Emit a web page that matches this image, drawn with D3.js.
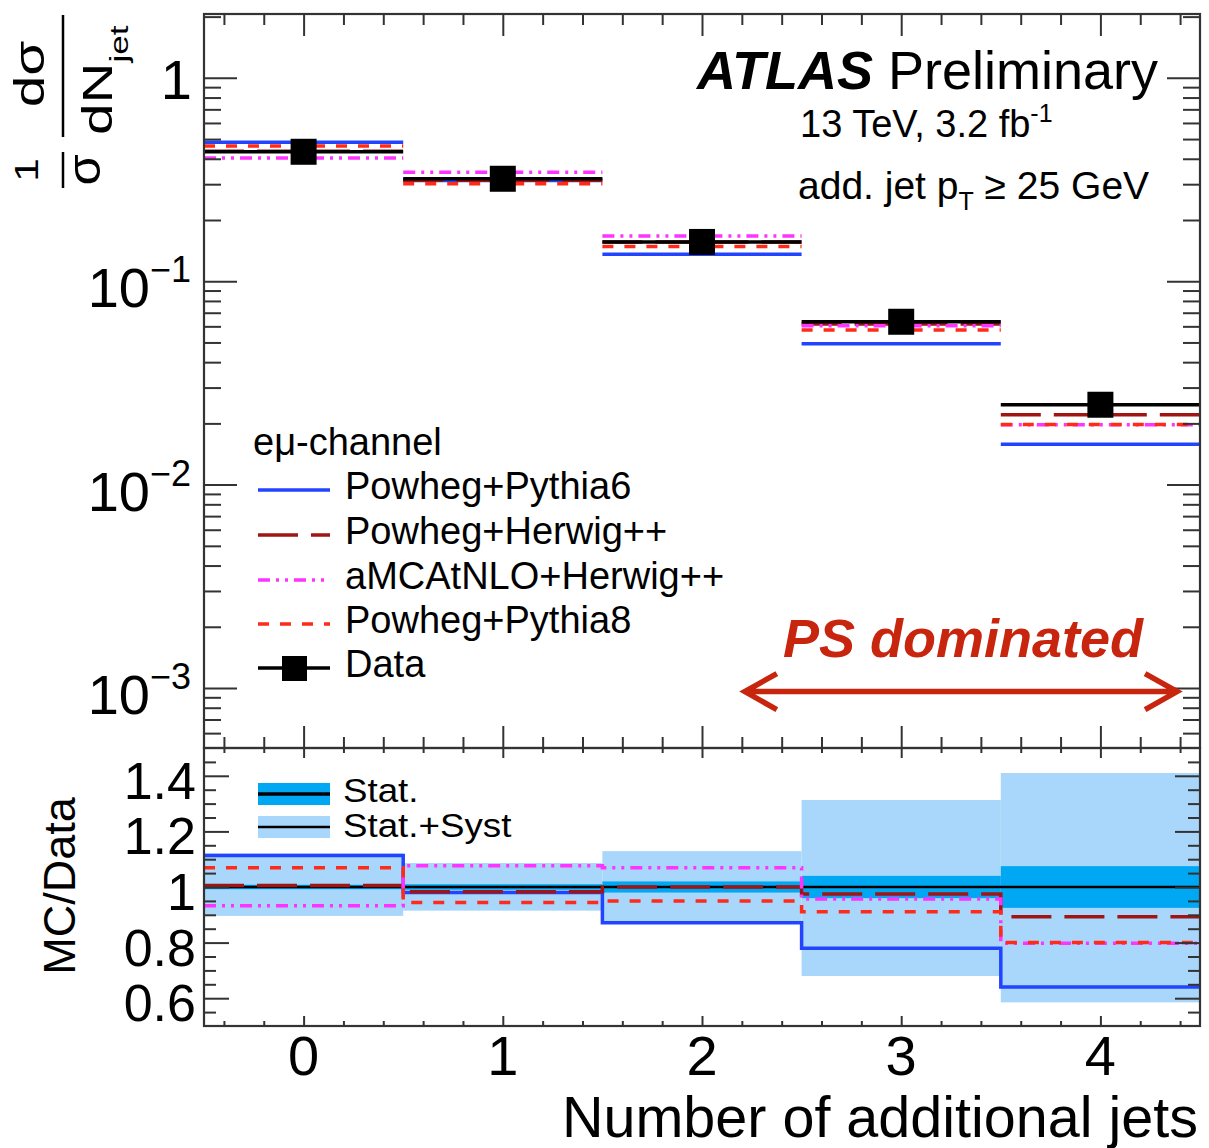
<!DOCTYPE html>
<html><head><meta charset="utf-8">
<script src="https://cdn.jsdelivr.net/npm/d3@7"></script>
<style>
body{margin:0;background:#fff}
svg{display:block}
text{font-family:"Liberation Sans", Arial, Helvetica, sans-serif;fill:#000}
</style>
</head><body>
<svg id="c" width="1209" height="1148"></svg>
<script>
// ---------------- data ----------------
const categories = [0, 1, 2, 3, 4];
const xTickLabels = ["0", "1", "2", "3", "4"];
const dataValues = [0.433, 0.319, 0.156, 0.0632, 0.0247];
const ratioPowhegPythia6 = [1.113, 0.980, 0.871, 0.780, 0.640];
const ratioPowhegHerwig  = [1.005, 0.983, 1.000, 0.975, 0.893];
const ratioAmcHerwig     = [0.933, 1.076, 1.069, 0.957, 0.798];
const ratioPowhegPythia8 = [1.069, 0.944, 0.950, 0.911, 0.800];
const statErr  = [0.008, 0.010, 0.020, 0.040, 0.075];
const systUp   = [1.121, 1.086, 1.129, 1.313, 1.410];
const systDown = [0.896, 0.915, 0.877, 0.680, 0.585];
const mainYTicks = [1, 0.1, 0.01, 0.001];
const mainYTickExp = ["0", "−1", "−2", "−3"];
const ratioYTicks = [0.6, 0.8, 1.0, 1.2, 1.4];
const ratioYTickLabels = ["0.6", "0.8", "1", "1.2", "1.4"];
const seriesNames = ["Powheg+Pythia6", "Powheg+Herwig++", "aMCAtNLO+Herwig++", "Powheg+Pythia8"];
const seriesRatios = [ratioPowhegPythia6, ratioPowhegHerwig, ratioAmcHerwig, ratioPowhegPythia8];
const dataName = "Data";
const bandNames = ["Stat.", "Stat.+Syst"];

// ---------------- styles ----------------
const seriesStyle = [
  {color: "#2244ff", dash: null},
  {color: "#a01414", dash: "40,13"},
  {color: "#ff33ff", dash: "12,6,3,6,3,6"},
  {color: "#ff2a1a", dash: "11,11"}
];
const statColor = "#00a8f4", systColor = "#a9d6fb";
const L = 204, R = 1200, T = 14, M = 748, B = 1026;

const svg = d3.select("#c");
const x = d3.scaleLinear().domain([-0.5, 4.5]).range([L, R]);
const y = d3.scaleLog().domain([5.07e-4, 2.06]).range([M, T]);
const yr = d3.scaleLinear().domain([0.5, 1.5]).range([B, M]);

// ---------------- ratio bands ----------------
const gr = svg.append("g");
gr.selectAll("rect.syst").data(categories).join("rect")
  .attr("x", d => x(d - 0.5)).attr("width", d => x(d + 0.5) - x(d - 0.5))
  .attr("y", (d, i) => yr(systUp[i])).attr("height", (d, i) => yr(systDown[i]) - yr(systUp[i]))
  .attr("fill", systColor);
gr.selectAll("rect.stat").data(categories).join("rect")
  .attr("x", d => x(d - 0.5)).attr("width", d => x(d + 0.5) - x(d - 0.5))
  .attr("y", (d, i) => yr(1 + statErr[i])).attr("height", (d, i) => yr(1 - statErr[i]) - yr(1 + statErr[i]))
  .attr("fill", statColor);
gr.append("line").attr("x1", x(-0.5)).attr("x2", x(4.5)).attr("y1", yr(1)).attr("y2", yr(1))
  .attr("stroke", "#000").attr("stroke-width", 2.5);

const stepLine = d3.line().x(d => x(d[0])).y(d => yr(d[1]));
[0, 1, 2, 3].forEach(s => {
  const pts = categories.flatMap((c, i) => [[c - 0.5, seriesRatios[s][i]], [c + 0.5, seriesRatios[s][i]]]);
  gr.append("path").attr("d", stepLine(pts)).attr("fill", "none")
    .attr("stroke", seriesStyle[s].color).attr("stroke-width", 3.5)
    .attr("stroke-dasharray", seriesStyle[s].dash);
});

// ---------------- main panel ----------------
const gm = svg.append("g");
[0, 1, 2, 3].forEach(s => {
  gm.selectAll(null).data(categories).join("line")
    .attr("x1", d => x(d - 0.5)).attr("x2", d => x(d + 0.5))
    .attr("y1", (d, i) => y(dataValues[i] * seriesRatios[s][i]))
    .attr("y2", (d, i) => y(dataValues[i] * seriesRatios[s][i]))
    .attr("stroke", seriesStyle[s].color).attr("stroke-width", 3.5)
    .attr("stroke-dasharray", seriesStyle[s].dash);
});
gm.selectAll(null).data(categories).join("line")
  .attr("x1", d => x(d - 0.5)).attr("x2", d => x(d + 0.5))
  .attr("y1", (d, i) => y(dataValues[i])).attr("y2", (d, i) => y(dataValues[i]))
  .attr("stroke", "#000").attr("stroke-width", 3.5);
const ms = 26;
gm.selectAll(null).data(categories).join("rect")
  .attr("x", d => x(d) - ms / 2).attr("y", (d, i) => y(dataValues[i]) - ms / 2)
  .attr("width", ms).attr("height", ms).attr("fill", "#000");

// ---------------- frames & ticks ----------------
const axColor = "#333";
function styleAxis(g) {
  g.select(".domain").remove();
  g.selectAll(".tick line").attr("stroke", axColor).attr("stroke-width", 2);
  g.selectAll(".tick text").remove();
}
const intTicks = categories;
const minorX = d3.range(-0.4, 4.45, 0.2).filter(v => Math.abs(v - Math.round(v)) > 0.05);
const minorLog = [];
for (let e = -4; e <= 0; e++) for (let k = 2; k <= 9; k++) {
  const v = k * Math.pow(10, e);
  if (v >= 5.07e-4 && v <= 2.06) minorLog.push(v);
}
const minorR = d3.range(0.55, 1.5, 0.05).filter(v => Math.abs(v * 5 - Math.round(v * 5)) > 0.01);

svg.append("g").attr("transform", `translate(${L},0)`).call(d3.axisLeft(y).tickValues(mainYTicks).tickSize(-33)).call(styleAxis);
svg.append("g").attr("transform", `translate(${L},0)`).call(d3.axisLeft(y).tickValues(minorLog).tickSize(-17)).call(styleAxis);
svg.append("g").attr("transform", `translate(${R},0)`).call(d3.axisRight(y).tickValues(mainYTicks).tickSize(-33)).call(styleAxis);
svg.append("g").attr("transform", `translate(${R},0)`).call(d3.axisRight(y).tickValues(minorLog).tickSize(-17)).call(styleAxis);
svg.append("g").attr("transform", `translate(0,${T})`).call(d3.axisTop(x).tickValues(intTicks).tickSize(-22)).call(styleAxis);
svg.append("g").attr("transform", `translate(0,${T})`).call(d3.axisTop(x).tickValues(minorX).tickSize(-11)).call(styleAxis);
svg.append("g").attr("transform", `translate(0,${M})`).call(d3.axisBottom(x).tickValues(intTicks).tickSize(-22)).call(styleAxis);
svg.append("g").attr("transform", `translate(0,${M})`).call(d3.axisBottom(x).tickValues(minorX).tickSize(-11)).call(styleAxis);
svg.append("g").attr("transform", `translate(0,${M})`).call(d3.axisTop(x).tickValues(intTicks).tickSize(-10)).call(styleAxis);
svg.append("g").attr("transform", `translate(0,${M})`).call(d3.axisTop(x).tickValues(minorX).tickSize(-5)).call(styleAxis);
svg.append("g").attr("transform", `translate(0,${B})`).call(d3.axisBottom(x).tickValues(intTicks).tickSize(-10)).call(styleAxis);
svg.append("g").attr("transform", `translate(0,${B})`).call(d3.axisBottom(x).tickValues(minorX).tickSize(-5)).call(styleAxis);
svg.append("g").attr("transform", `translate(${L},0)`).call(d3.axisLeft(yr).tickValues(ratioYTicks).tickSize(-25)).call(styleAxis);
svg.append("g").attr("transform", `translate(${L},0)`).call(d3.axisLeft(yr).tickValues(minorR).tickSize(-12)).call(styleAxis);
svg.append("g").attr("transform", `translate(${R},0)`).call(d3.axisRight(yr).tickValues(ratioYTicks).tickSize(-25)).call(styleAxis);
svg.append("g").attr("transform", `translate(${R},0)`).call(d3.axisRight(yr).tickValues(minorR).tickSize(-12)).call(styleAxis);

svg.append("rect").attr("x", L).attr("y", T).attr("width", R - L).attr("height", M - T)
  .attr("fill", "none").attr("stroke", axColor).attr("stroke-width", 2.2);
svg.append("rect").attr("x", L).attr("y", M).attr("width", R - L).attr("height", B - M)
  .attr("fill", "none").attr("stroke", axColor).attr("stroke-width", 2.2);

// ---------------- tick labels ----------------
svg.selectAll(null).data(categories).join("text")
  .attr("x", d => x(d)).attr("y", 1075).attr("text-anchor", "middle")
  .attr("font-size", 56).text((d, i) => xTickLabels[i]);

mainYTicks.forEach((v, i) => {
  if (mainYTickExp[i] === "0") {
    svg.append("text").attr("x", 192).attr("y", y(v) + 21).attr("text-anchor", "end")
      .attr("font-size", 56).text("1");
  } else {
    const t = svg.append("text").attr("x", 191).attr("y", y(v) + 26).attr("text-anchor", "end");
    t.append("tspan").attr("font-size", 56).text("10");
    t.append("tspan").attr("font-size", 36).attr("dy", -25).text(mainYTickExp[i]);
  }
});
svg.selectAll(null).data(ratioYTicks).join("text")
  .attr("x", 196).attr("y", d => yr(d) + 23).attr("text-anchor", "end")
  .attr("font-size", 52).text((d, i) => ratioYTickLabels[i]);

// ---------------- axis titles ----------------
svg.append("text").attr("x", 1198).attr("y", 1137).attr("text-anchor", "end")
  .attr("font-size", 57.5).text("Number of additional jets");
svg.append("text").attr("transform", "translate(75,886) rotate(-90)").attr("text-anchor", "middle")
  .attr("font-size", 45).text("MC/Data");

// y title: (1/σ) (dσ / dN_jet), rotated
const yt = svg.append("g").attr("transform", "translate(63,100) rotate(-90)");
yt.append("line").attr("x1", -37).attr("x2", 85).attr("y1", 0).attr("y2", 0).attr("stroke", "#000").attr("stroke-width", 2.5);
yt.append("line").attr("x1", -88).attr("x2", -52).attr("y1", 0).attr("y2", 0).attr("stroke", "#000").attr("stroke-width", 2.5);
yt.append("text").attr("transform", "translate(-70,-25) scale(1.25,1)").attr("text-anchor", "middle").attr("font-size", 34).text("1");
yt.append("text").attr("transform", "translate(-70,37) scale(1.1,1)").attr("text-anchor", "middle").attr("font-size", 46).text("σ");
yt.append("text").attr("transform", "translate(26,-19) scale(1.35,1)").attr("text-anchor", "middle").attr("font-size", 42).text("dσ");
const den = yt.append("text").attr("transform", "translate(-35,49) scale(1.35,1)");
den.append("tspan").attr("font-size", 42).text("dN");
den.append("tspan").attr("font-size", 26).attr("dy", 16).text("jet");

// ---------------- labels ----------------
const atl = svg.append("text").attr("x", 697).attr("y", 89).attr("font-size", 54);
atl.append("tspan").attr("font-weight", "bold").attr("font-style", "italic").text("ATLAS");
atl.append("tspan").text(" Preliminary");
const en = svg.append("text").attr("x", 800).attr("y", 137).attr("font-size", 38);
en.append("tspan").text("13 TeV, 3.2 fb");
en.append("tspan").attr("font-size", 25).attr("dy", -15).text("-1");
const cut = svg.append("text").attr("x", 798).attr("y", 199).attr("font-size", 39);
cut.append("tspan").text("add. jet p");
cut.append("tspan").attr("font-size", 25).attr("dy", 11).text("T");
cut.append("tspan").attr("dy", -11).text(" ≥ 25 GeV");

// ---------------- legend ----------------
svg.append("text").attr("x", 253).attr("y", 455).attr("font-size", 38).text("eμ-channel");
const legY = [490, 535, 580, 624, 668];
seriesNames.forEach((n, s) => {
  svg.append("line").attr("x1", 258).attr("x2", 330).attr("y1", legY[s]).attr("y2", legY[s])
    .attr("stroke", seriesStyle[s].color).attr("stroke-width", 3.5).attr("stroke-dasharray", seriesStyle[s].dash);
  svg.append("text").attr("x", 345).attr("y", legY[s] + 9).attr("font-size", 38).text(n);
});
svg.append("line").attr("x1", 258).attr("x2", 330).attr("y1", legY[4]).attr("y2", legY[4])
  .attr("stroke", "#000").attr("stroke-width", 3.5);
svg.append("rect").attr("x", 282).attr("y", legY[4] - 12).attr("width", 25).attr("height", 25).attr("fill", "#000");
svg.append("text").attr("x", 345).attr("y", legY[4] + 9).attr("font-size", 38).text(dataName);

// ratio legend
[[statColor, 794, 3.5, 802], [systColor, 827, 2.5, 837]].forEach((b, i) => {
  svg.append("rect").attr("x", 258).attr("y", b[1] - 11).attr("width", 72).attr("height", 22).attr("fill", b[0]);
  svg.append("line").attr("x1", 258).attr("x2", 330).attr("y1", b[1]).attr("y2", b[1]).attr("stroke", "#000").attr("stroke-width", b[2]);
  svg.append("text").attr("font-size", 34)
    .attr("transform", `translate(343,${b[3]}) scale(1.08,1)`).text(bandNames[i]);
});

// ---------------- annotation ----------------
const annColor = "#c8250f";
svg.append("text").attr("x", 963).attr("y", 657).attr("text-anchor", "middle")
  .attr("font-family", "Lato, 'Open Sans', sans-serif").attr("font-style", "italic").attr("font-weight", 600)
  .attr("font-size", 54).attr("fill", annColor).style("fill", annColor).text("PS dominated");
const ax1 = x(2.215), ax2 = x(4.385), ay = y(0.00096);
const arrow = d3.path();
arrow.moveTo(ax1, ay); arrow.lineTo(ax2, ay);
arrow.moveTo(ax1 + 32, ay - 18); arrow.lineTo(ax1, ay); arrow.lineTo(ax1 + 32, ay + 18);
arrow.moveTo(ax2 - 32, ay - 18); arrow.lineTo(ax2, ay); arrow.lineTo(ax2 - 32, ay + 18);
svg.append("path").attr("d", arrow.toString()).attr("fill", "none").attr("stroke", annColor)
  .attr("stroke-width", 5.5).attr("stroke-linejoin", "miter");
</script>
</body></html>
